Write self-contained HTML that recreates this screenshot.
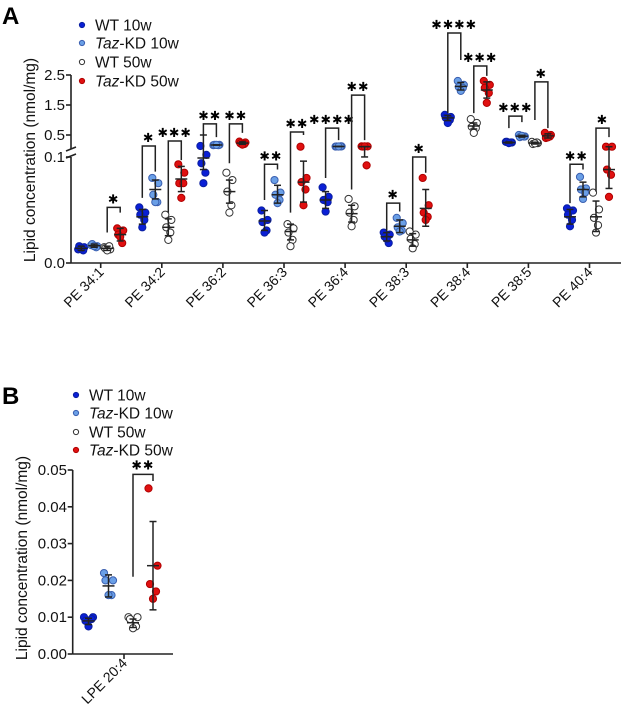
<!DOCTYPE html>
<html><head><meta charset="utf-8">
<style>
html,body{margin:0;padding:0;background:#fff;}
svg{display:block;font-family:"Liberation Sans",Arial,sans-serif;}
</style></head>
<body>
<svg id="fig" width="623" height="715" viewBox="0 0 623 715" xmlns="http://www.w3.org/2000/svg"></svg>
<script>
// ---------- Panel A data ----------
const categoriesA = ["PE 34:1","PE 34:2","PE 36:2","PE 36:3","PE 36:4","PE 38:3","PE 38:4","PE 38:5","PE 40:4"];
const groups = ["WT 10w","Taz-KD 10w","WT 50w","Taz-KD 50w"];
const wt10A = [[0.013,0.015,0.016,0.012,0.014],[0.053,0.048,0.046,0.041,0.034],[0.133,0.103,0.095,0.086,0.076],[0.050,0.041,0.039,0.031,0.029],[0.072,0.063,0.060,0.058,0.049],[0.029,0.027,0.025,0.019,0.023],[1.17,1.1,1.07,1.0,0.9],[0.27,0.25,0.27,0.25,0.23],[0.052,0.050,0.046,0.041,0.035]];
const kd10A = [[0.017,0.016,0.018,0.015,0.016],[0.081,0.076,0.065,0.058,0.058],[0.16,0.17,0.17,0.16,0.17],[0.079,0.067,0.065,0.060,0.057],[0.115,0.12,0.118,0.12,0.117],[0.043,0.038,0.034,0.031,0.030],[2.3,2.17,2.1,2.07,1.97],[0.5,0.45,0.43,0.45,0.47],[0.082,0.071,0.070,0.067,0.061]];
const wt50A = [[0.015,0.013,0.014,0.016,0.012],[0.046,0.041,0.034,0.029,0.022],[0.086,0.079,0.068,0.055,0.048],[0.037,0.033,0.029,0.022,0.016],[0.061,0.054,0.048,0.041,0.035],[0.030,0.027,0.023,0.018,0.014],[1.03,0.9,0.77,0.73,0.57],[0.27,0.23,0.2,0.25,0.22],[0.067,0.051,0.043,0.036,0.029]];
const kd50A = [[0.033,0.031,0.027,0.019,0.025],[0.094,0.086,0.076,0.076,0.062],[0.28,0.25,0.22,0.2,0.18],[0.11,0.081,0.077,0.070,0.055],[0.12,0.12,0.115,0.093,0.12],[0.081,0.055,0.048,0.044,0.041],[2.3,2.17,2.07,1.9,1.57],[0.57,0.5,0.4,0.45,0.42],[0.11,0.11,0.089,0.084,0.063]];
// mean, lower, upper of error bars [cat][group]
const meanA = [[0.014,0.0165,0.014,0.027],[0.044,0.070,0.034,0.080],[0.1,0.167,0.068,0.23],[0.040,0.065,0.030,0.077],[0.060,0.118,0.047,0.11],[0.025,0.035,0.022,0.052],[1.07,2.12,0.8,2.0],[0.25,0.46,0.23,0.47],[0.044,0.070,0.044,0.089]];
const loA = [[0.012,0.015,0.012,0.021],[0.037,0.061,0.026,0.068],[0.089,0.16,0.057,0.19],[0.031,0.057,0.022,0.058],[0.052,0.115,0.039,0.101],[0.021,0.029,0.016,0.035],[0.98,2.0,0.7,1.73],[0.23,0.43,0.2,0.4],[0.037,0.063,0.030,0.071]];
const hiA = [[0.016,0.018,0.016,0.033],[0.051,0.079,0.042,0.092],[0.5,0.175,0.079,0.27],[0.050,0.074,0.037,0.097],[0.068,0.121,0.055,0.115],[0.029,0.041,0.028,0.070],[1.15,2.25,0.9,2.27],[0.27,0.49,0.26,0.54],[0.051,0.077,0.059,0.11]];
// significance brackets
const bracketCat = [0,1,1,2,2,3,3,4,4,5,5,6,6,7,7,8,8];
const bracketG1 = [2,0,2,0,2,0,2,0,2,0,2,0,2,0,2,0,2];
const bracketTop = [0.053,0.133,0.3,0.87,0.87,0.094,0.6,0.73,1.83,0.057,0.101,3.9,2.8,1.13,2.27,0.094,0.73];
const bracketLeft = [0.029,0.062,0.048,0.5,0.095,0.06,0.048,0.081,0.07,0.030,0.031,1.23,1.23,0.73,1.0,0.057,0.068];
const bracketRight = [0.048,0.087,0.098,0.43,0.57,0.089,0.5,0.33,0.33,0.049,0.086,3.0,2.47,0.93,0.73,0.089,0.43];
const bracketLabel = ["*","*","***","**","**","**","**","****","**","*","*","****","***","***","*","**","*"];
const yTicksA = [0.0,0.1,0.5,1.5,2.5];
const yTickLabelsA = ["0.0","0.1","0.5","1.5","2.5"];

// ---------- Panel B data ----------
const categoriesB = ["LPE 20:4"];
const wt10B = [0.010,0.010,0.009,0.0095,0.0075];
const kd10B = [0.022,0.020,0.020,0.016,0.016];
const wt50B = [0.010,0.010,0.0095,0.0075,0.007];
const kd50B = [0.045,0.024,0.019,0.017,0.015];
const meanB = [0.009,0.0185,0.0085,0.024];
const loB = [0.008,0.0155,0.0072,0.012];
const hiB = [0.0097,0.0215,0.0095,0.036];
const yTicksB = [0,0.01,0.02,0.03,0.04,0.05];
const yTickLabelsB = ["0.00","0.01","0.02","0.03","0.04","0.05"];

const NS="http://www.w3.org/2000/svg";
const svg=document.getElementById('fig');
function mk(tag,attrs,parent){const e=document.createElementNS(NS,tag);for(const k in attrs)e.setAttribute(k,attrs[k]);(parent||svg).appendChild(e);return e;}
const fills=["#0a1fd6","#6a9fe6","#ffffff","#e01010"];
const strokes=["#0a1fa0","#3a5fb0","#333333","#b00000"];

function yA(v){ if(v<=0.105) return 263 - v*1050; return 135 - (v-0.5)*30; }
const xCenterA=(i)=>100.7+61.1*i;
const offA=[-19.5,-6.5,6.5,19.5];
const xA=(c,g)=>xCenterA(c)+offA[g];

const gA=mk('g',{});


let t=mk('text',{x:2,y:24,'font-size':24,'font-weight':'bold'},gA);t.textContent='A';


const axA=mk('g',{stroke:'#222','stroke-width':1.6,fill:'none'},gA);

mk('line',{x1:71,y1:75,x2:71,y2:149},axA);
mk('line',{x1:71,y1:157,x2:71,y2:263},axA);
mk('line',{x1:66,y1:151,x2:76,y2:147},axA);
mk('line',{x1:66,y1:158,x2:76,y2:154},axA);
const xaxA=mk('line',{x1:71,y1:263,x2:621,y2:263,stroke:'#222','stroke-width':1.6},gA);

yTicksA.forEach((v,i)=>{
  const y=v===0.1?157:yA(v);
  mk('line',{x1:66,y1:y,x2:71,y2:y,stroke:'#222','stroke-width':1.6},gA);
  const tt=mk('text',{x:65,y:y+5,'font-size':15,'text-anchor':'end',fill:'#111'},gA);
  tt.textContent=yTickLabelsA[i];
  
});
categoriesA.forEach((c,i)=>{
  const x=xCenterA(i);
  mk('line',{x1:x,y1:263,x2:x,y2:268,stroke:'#222','stroke-width':1.6},gA);
  const tt=mk('text',{x:x+4,y:273,'font-size':14,'text-anchor':'end',fill:'#111',transform:`rotate(-45 ${x+4} 273)`},gA);
  tt.textContent=c;
  
});
t=mk('text',{x:0,y:0,'font-size':15.5,'text-anchor':'middle',transform:'translate(35 160) rotate(-90)',fill:'#111'},gA);
t.textContent='Lipid concentration (nmol/mg)';


function errbar(parent,x,ym,ylo,yhi){
  const e=mk('g',{stroke:'#222','stroke-width':1.5},parent);
  
  mk('line',{x1:x,y1:ylo,x2:x,y2:yhi},e);
  mk('line',{x1:x-6,y1:ym,x2:x+6,y2:ym},e);
  mk('line',{x1:x-3.5,y1:ylo,x2:x+3.5,y2:ylo},e);
  mk('line',{x1:x-3.5,y1:yhi,x2:x+3.5,y2:yhi},e);
}
const seriesA=[wt10A,kd10A,wt50A,kd50A];
const jit=[-3,3,-2,2,0];
categoriesA.forEach((c,ci)=>{
  seriesA.forEach((s,gi)=>{
    const gx=xA(ci,gi);
    const grp=mk('g',{},gA);
    
    
    s[ci].forEach((v,k)=>{
      const d=mk('circle',{cx:gx+jit[k],cy:yA(v),r:3.6,fill:fills[gi],stroke:strokes[gi],'stroke-width':1},grp);
      
    });
    errbar(gA,gx,yA(meanA[ci][gi]),yA(loA[ci][gi]),yA(hiA[ci][gi]));
  });
});
bracketCat.forEach((c,i)=>{
  const x1=xA(c,bracketG1[i]),x2=xA(c,bracketG1[i]+1);
  const yt=yA(bracketTop[i]);
  const b=mk('path',{d:`M${x1} ${yA(bracketLeft[i])} V${yt} H${x2} V${yA(bracketRight[i])}`,fill:'none',stroke:'#222','stroke-width':1.5},gA);
  
  const lt=mk('text',{x:(x1+x2)/2,y:yt-4,'font-size':12.5,'text-anchor':'middle','font-family':'"DejaVu Sans",sans-serif','letter-spacing':'1'},gA);
  lt.textContent=bracketLabel[i].replace(/\*/g,'✱');
  
});

function legend(parent,x,ys,name){
  ys.forEach((y,i)=>{
    const g=mk('g',{},parent);
    
    mk('circle',{cx:x,cy:y,r:2.6,fill:fills[i],stroke:strokes[i],'stroke-width':1},g);
    const tt=mk('text',{x:x+13,y:y+5.5,'font-size':15.5,fill:'#111'},g);
    if(groups[i].startsWith('Taz')){
      const a=mk('tspan',{'font-style':'italic'},tt);a.textContent='Taz';
      const b=mk('tspan',{},tt);b.textContent=groups[i].slice(3);
    } else tt.textContent=groups[i];
  });
}
legend(gA,82,[25,43,62,81],'legend-a');

// ---- Panel B ----
const gB=mk('g',{});

t=mk('text',{x:2,y:404,'font-size':24,'font-weight':'bold'},gB);t.textContent='B';

legend(gB,76,[395,413,432,450],'legend-b');
const yB=v=>654-v*3680;
const xCenterB=124;
const offB=[-35.5,-15.5,9,29];
const ax=mk('line',{x1:72.7,y1:470,x2:72.7,y2:654,stroke:'#222','stroke-width':1.6},gB);

const axx=mk('line',{x1:72.7,y1:654,x2:173,y2:654,stroke:'#222','stroke-width':1.6},gB);

yTicksB.forEach((v,i)=>{
  const y=yB(v);
  mk('line',{x1:67.7,y1:y,x2:72.7,y2:y,stroke:'#222','stroke-width':1.6},gB);
  const tt=mk('text',{x:67,y:y+5,'font-size':15,'text-anchor':'end',fill:'#111'},gB);
  tt.textContent=yTickLabelsB[i];
  
});
categoriesB.forEach((c)=>{
  mk('line',{x1:xCenterB,y1:654,x2:xCenterB,y2:659,stroke:'#222','stroke-width':1.6},gB);
  const tt=mk('text',{x:xCenterB+4,y:664,'font-size':14,'text-anchor':'end',fill:'#111',transform:`rotate(-45 ${xCenterB+4} 664)`},gB);
  tt.textContent=c;
  
});
t=mk('text',{x:0,y:0,'font-size':15.5,'text-anchor':'middle',transform:'translate(27 558) rotate(-90)',fill:'#111'},gB);
t.textContent='Lipid concentration (nmol/mg)';

const seriesB=[wt10B,kd10B,wt50B,kd50B];
seriesB.forEach((s,gi)=>{
  const gx=xCenterB+offB[gi];
  s.forEach((v,k)=>{
    const d=mk('circle',{cx:gx+jit[k]*1.5,cy:yB(v),r:3.6,fill:fills[gi],stroke:strokes[gi],'stroke-width':1},gB);
    
  });
  errbar(gB,gx,yB(meanB[gi]),yB(loB[gi]),yB(hiB[gi]));
});
const bx1=xCenterB+offB[2],bx2=xCenterB+offB[3],byt=yB(0.0488);
const bb=mk('path',{d:`M${bx1} ${yB(0.021)} V${byt} H${bx2} V${yB(0.047)}`,fill:'none',stroke:'#222','stroke-width':1.5},gB);

const bl=mk('text',{x:(bx1+bx2)/2,y:byt-5,'font-size':12.5,'text-anchor':'middle','font-family':'"DejaVu Sans",sans-serif','letter-spacing':'1'},gB);
bl.textContent='✱✱';

</script>
</body></html>
